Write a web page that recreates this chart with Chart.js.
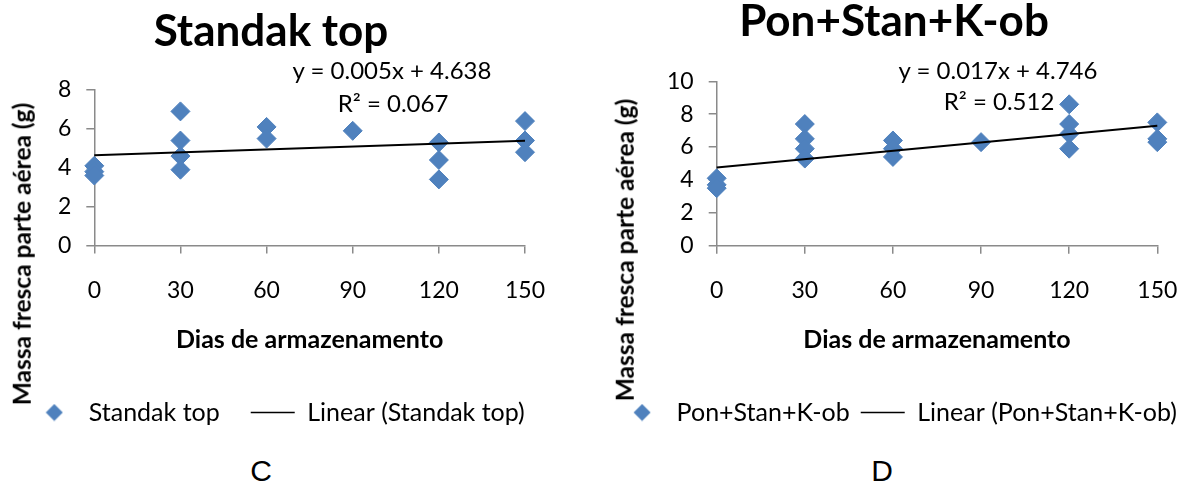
<!DOCTYPE html>
<html>
<head>
<meta charset="utf-8">
<script src="https://cdn.jsdelivr.net/npm/chart.js@4.4.1/dist/chart.umd.min.js"></script>
<style>
  html, body { margin: 0; padding: 0; background: #fff; overflow: hidden; }
  #wrap { position: relative; width: 1192px; height: 488px; overflow: hidden; }
  canvas { position: absolute; top: 0; }
  .txt { position: absolute; transform: translate(-50%, -50%); white-space: nowrap; line-height: 1; font-family: Lato, sans-serif; color: #000; }
  .title { font-size: 44px; font-weight: bold; }
  .eq { font-size: 24px; }
  .ytitle { font-size: 24.5px; font-weight: bold; transform: translate(-50%, -50%) rotate(-90deg); }
  .panel { font-family: "Liberation Sans", Arial, sans-serif; font-size: 30px; }
</style>
</head>
<body>
<div id="wrap">
  <canvas id="chartC" width="617" height="435" style="left:-30px"></canvas>
  <canvas id="chartD" width="637" height="435" style="left:580px"></canvas>

  <div class="txt title" style="left:271px; top:29px">Standak top</div>
  <div class="txt title" style="left:894px; top:19px">Pon+Stan+K-ob</div>

  <div class="txt eq" style="left:392px; top:70px">y = 0.005x + 4.638</div>
  <div class="txt eq" style="left:393px; top:103px">R² = 0.067</div>
  <div class="txt eq" style="left:998px; top:70px">y = 0.017x + 4.746</div>
  <div class="txt eq" style="left:999px; top:101px">R² = 0.512</div>

  <div class="txt ytitle" style="left:22px; top:254px">Massa fresca parte aérea (g)</div>
  <div class="txt ytitle" style="left:625px; top:250px">Massa fresca parte aérea (g)</div>

  <div class="txt panel" style="left:261px; top:471px">C</div>
  <div class="txt panel" style="left:882px; top:471px">D</div>
</div>

<script>
// values
const daysC = [0, 0, 0, 30, 30, 30, 30, 60, 60, 90, 120, 120, 120, 150, 150, 150];
const massC = [4.1, 3.8, 3.6, 6.9, 5.4, 4.6, 3.9, 6.1, 5.5, 5.9, 5.3, 4.4, 3.4, 6.4, 5.4, 4.8];

const daysD = [0, 0, 0, 30, 30, 30, 30, 60, 60, 60, 90, 120, 120, 120, 120, 150, 150, 150];
const massD = [4.1, 3.7, 3.5, 7.4, 6.5, 5.9, 5.3, 6.4, 5.9, 5.4, 6.3, 8.6, 7.4, 6.8, 5.9, 7.5, 6.5, 6.3];

const trendDays = [0, 150];
const trendC = [4.64, 5.39];
const trendD = [4.75, 7.30];

const xTickStep = 30;
const yTickStep = 2;
const yMaxC = 8;
const yMaxD = 10;

const BLUE = "#4F81BD";
const AXIS = "#8a8a8a";

Chart.defaults.font.family = "Lato";
Chart.defaults.color = "#000";

// small diamond for the legend, so pointStyleWidth does not stretch it
const diamondIcon = document.createElement("canvas");
diamondIcon.width = 18;
diamondIcon.height = 18;
(function () {
  const c = diamondIcon.getContext("2d");
  c.fillStyle = BLUE;
  c.beginPath();
  c.moveTo(9, 0.5);
  c.lineTo(17.5, 9);
  c.lineTo(9, 17.5);
  c.lineTo(0.5, 9);
  c.closePath();
  c.fill();
})();

const toPoints = (xs, ys) => xs.map((x, i) => ({ x: x, y: ys[i] }));

function makeChart(id, cfg) {
  return new Chart(document.getElementById(id), {
    type: "scatter",
    data: {
      datasets: [
        {
          label: cfg.name,
          data: toPoints(cfg.days, cfg.mass),
          pointStyle: "rectRot",
          pointRadius: 9.5,
          pointHoverRadius: 9.5,
          backgroundColor: BLUE,
          borderColor: BLUE,
          borderWidth: 1,
          clip: false,
          order: 1,
        },
        {
          type: "line",
          label: "Linear (" + cfg.name + ")",
          data: toPoints(trendDays, cfg.trend),
          borderColor: "#000",
          borderWidth: 2,
          pointRadius: 0,
          pointStyle: "line",
          pointBorderColor: "#000",
          pointBorderWidth: 1.5,
          fill: false,
          clip: false,
          order: 0,
        },
      ],
    },
    options: {
      responsive: false,
      animation: false,
      devicePixelRatio: 1,
      layout: { padding: { top: cfg.top, left: 0, right: 0, bottom: 0 } },
      plugins: {
        tooltip: { enabled: false },
        legend: {
          position: "bottom",
          labels: {
            usePointStyle: true,
            pointStyleWidth: cfg.boxW,
            boxHeight: 12,
            padding: cfg.legPad,
            color: "#000",
            font: { size: 25 },
            sort: (a, b) => a.datasetIndex - b.datasetIndex,
            generateLabels(chart) {
              const items = Chart.defaults.plugins.legend.labels.generateLabels(chart);
              items.forEach((it) => {
                if (it.datasetIndex === 0) it.pointStyle = diamondIcon;
              });
              return items;
            },
          },
        },
      },
      scales: {
        x: {
          type: "linear",
          min: 0,
          max: 150,
          ticks: { stepSize: xTickStep, padding: 23, font: { size: 23 }, color: "#000" },
          grid: { drawOnChartArea: false, tickLength: 8, color: AXIS, lineWidth: 1.5 },
          border: { color: AXIS, width: 1.5 },
          title: {
            display: true,
            text: "Dias de armazenamento",
            color: "#000",
            font: { size: 25, weight: "bold" },
            padding: { top: 0, bottom: cfg.xTitlePad },
          },
          afterFit(scale) {
            scale.height = cfg.xH;
            scale.paddingLeft = 0;
            scale.paddingRight = cfg.padR;
          },
        },
        y: {
          min: 0,
          max: cfg.yMax,
          ticks: { stepSize: yTickStep, padding: 15, font: { size: 23 }, color: "#000" },
          grid: { drawOnChartArea: false, tickLength: 8, color: AXIS, lineWidth: 1.5 },
          border: { color: AXIS, width: 1.5 },
          afterFit(scale) {
            scale.width = cfg.yW;
            scale.paddingTop = 0;
            scale.paddingBottom = 0;
          },
        },
      },
    },
  });
}

makeChart("chartC", {
  name: "Standak top",
  days: daysC,
  mass: massC,
  trend: trendC,
  yMax: yMaxC,
  top: 90,
  yW: 124.3,
  padR: 62,
  xH: 123.5,
  xTitlePad: 14,
  boxW: 44,
  legPad: 31,
});

makeChart("chartD", {
  name: "Pon+Stan+K-ob",
  days: daysD,
  mass: massD,
  trend: trendD,
  yMax: yMaxD,
  top: 81.3,
  yW: 136.7,
  padR: 59.7,
  xH: 143.3,
  xTitlePad: 34,
  boxW: 44,
  legPad: 11,
});
</script>
</body>
</html>
